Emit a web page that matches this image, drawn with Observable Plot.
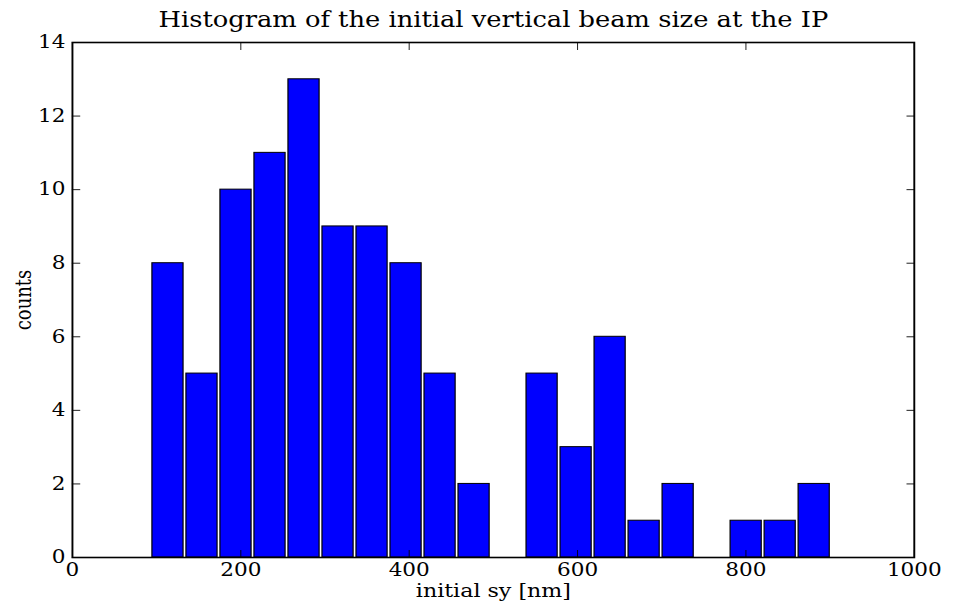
<!DOCTYPE html>
<html>
<head>
<meta charset="utf-8">
<script src="https://cdn.jsdelivr.net/npm/d3@7"></script>
<script src="https://cdn.jsdelivr.net/npm/@observablehq/plot@0.6"></script>
<style>
  html, body { margin: 0; padding: 0; background: #fff; }
  #chart svg { display: block; }
</style>
</head>
<body>
<div id="chart"></div>
<script>
// Histogram bin edges (nm) and the count in each bin
const binEdges = [93.4, 133.8, 174.2, 214.6, 255.0, 295.4, 335.8, 376.2, 416.6, 457.0,
                  497.4, 537.8, 578.2, 618.6, 659.0, 699.4, 739.8, 780.2, 820.6, 861.0, 901.4];
const counts = [8, 5, 10, 11, 13, 9, 9, 8, 5, 2, 0, 5, 3, 6, 1, 2, 0, 1, 1, 2];

const xTicks = [0, 200, 400, 600, 800, 1000];
const yTicks = [0, 2, 4, 6, 8, 10, 12, 14];

const title = "Histogram of the initial vertical beam size at the IP";
const xLabel = "initial sy [nm]";
const yLabel = "counts";

const bins = counts
  .map((count, i) => ({x1: binEdges[i], x2: binEdges[i + 1], count}))
  .filter(d => d.count > 0);

// The figure is laid out on an 800-wide canvas and then stretched to the page width.
const W = 800, H = 602, OUT_W = 958;
const tick = 7;

const chart = Plot.plot({
  width: W,
  height: H,
  marginLeft: 60,
  marginRight: 37,
  marginTop: 42,
  marginBottom: 45,
  style: {fontFamily: "DejaVu Serif", fontSize: "18px", color: "black", background: "white"},
  x: {domain: [0, 1000], ticks: xTicks},
  y: {domain: [0, 14], ticks: yTicks},
  marks: [
    Plot.rectY(bins, {
      x1: "x1", x2: "x2", y: "count",
      fill: "#0000ff", stroke: "black", strokeWidth: 1,
      insetLeft: 1.2, insetRight: 1.2
    }),
    // inward ticks on all four sides
    Plot.axisX({anchor: "bottom", ticks: xTicks, tickSize: -tick, tickPadding: tick + 5.7,
                tickFormat: d => String(d), label: null, stroke: "black", strokeWidth: 0.8}),
    Plot.axisX({anchor: "top", ticks: xTicks, tickSize: -tick, tickFormat: () => "",
                label: null, stroke: "black", strokeWidth: 0.8}),
    Plot.axisY({anchor: "left", ticks: yTicks, tickSize: -tick, tickPadding: tick + 5.8,
                tickFormat: d => String(d), label: null, stroke: "black", strokeWidth: 0.8}),
    Plot.axisY({anchor: "right", ticks: yTicks, tickSize: -tick, tickFormat: () => "",
                label: null, stroke: "black", strokeWidth: 0.8}),
    Plot.frame({stroke: "black", strokeWidth: 1.6}),
    Plot.text([title], {frameAnchor: "top", dy: -22, lineAnchor: "middle",
                        textAnchor: "middle", fontSize: 21.5, fill: "black"}),
    Plot.text([xLabel], {frameAnchor: "bottom", dy: 34, lineAnchor: "middle",
                         textAnchor: "middle", fontSize: 18.5, fill: "black"}),
    Plot.text([yLabel], {frameAnchor: "left", dx: -40, rotate: -90, lineAnchor: "middle",
                         textAnchor: "middle", fontSize: 18, fill: "black"})
  ]
});

chart.setAttribute("viewBox", `0 0 ${W} ${H}`);
chart.setAttribute("width", OUT_W);
chart.setAttribute("height", H);
chart.setAttribute("preserveAspectRatio", "none");
chart.style.maxWidth = "none";
document.getElementById("chart").appendChild(chart);
</script>
</body>
</html>
